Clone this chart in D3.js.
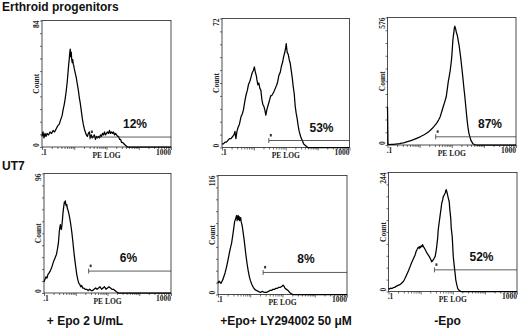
<!DOCTYPE html>
<html>
<head>
<meta charset="utf-8">
<script src="https://cdn.jsdelivr.net/npm/d3@7"></script>
<style>
  html, body { margin: 0; padding: 0; background: #fff; }
  svg { display: block; }
  .title { font: bold 12px "Liberation Sans", Arial, sans-serif; fill: #111; }
  .pct { font: bold 12px "Liberation Sans", Arial, sans-serif; fill: #111; }
  .lbl { font-family: "Liberation Serif", "Times New Roman", serif; font-weight: bold; font-size: 7.5px; fill: #222; }
</style>
</head>
<body>
<svg id="chart" width="520" height="328"></svg>
<script>
// row / column captions
const rowTitles = ['Erthroid progenitors', 'UT7'];
const conditions = ['+ Epo 2 U/mL', '+Epo+ LY294002 50 μM', '-Epo'];

// per panel: y-axis max, gated percentage, gate start (channel) and gate height (count)
const yMax = [84, 72, 576, 96, 116, 244];
const percents = ['12%', '53%', '87%', '6%', '8%', '52%'];
const gateStart = [95, 94, 96, 90, 89.5, 91.5];
const gateLevel = [6.6, 3.9, 37, 17.6, 21.5, 44.4];
const xTickLabels = ['.1', '1000'];

// histograms: [channel (0-256 over 4 log decades), count]
const progEpo = [[0,7],[2,10],[4,6],[6,9],[8,7],[10,9],[13,8],[16,10],[19,9],[22,11],[25,10],[28,12],[31,14],[34,15],[37,18],[40,21],[42,25],[44,28],[46,32],[48,37],[50,43],[51,47],[52,51],[53,55],[54,58],[55,62],[56,65],[57,60],[58,63],[59,58],[60,56],[61,58],[62,55],[63,54],[64,52],[66,49],[68,46],[70,42],[72,38],[74,33],[76,29],[78,24],[80,19],[82,15],[84,12],[86,10],[88,8],[90,7],[92,9],[94,10],[96,6],[98,8],[100,6],[102,7],[104,8],[106,5],[108,7],[110,6],[112,7],[114,6],[116,8],[118,7],[120,9],[122,8],[124,10],[126,8],[128,9],[130,10],[132,9],[134,11],[136,9],[138,10],[140,9],[142,10],[144,8],[146,9],[148,8],[150,7],[152,7],[154,5],[156,5],[158,3],[160,3],[163,2],[166,1],[170,0],[256,0]];
const progLy = [[0,2],[3,2],[6,3],[9,3],[12,4],[15,5],[18,5],[21,6],[24,7],[26,9],[28,5],[30,9],[32,11],[35,13],[38,17],[41,19],[43,21],[46,26],[48,29],[51,32],[53,35],[56,37],[58,39],[61,42],[63,43],[65,45],[67,42],[69,40],[70,38],[72,35],[74,36],[76,33],[78,32],[80,27],[82,24],[84,23],[86,21],[88,18],[90,21],[92,23],[94,25],[96,27],[98,29],[100,29],[102,30],[104,31],[107,33],[110,35],[112,37],[114,40],[117,42],[119,45],[122,48],[124,51],[126,53],[128,56],[129,58],[130,55],[131,53],[133,52],[135,49],[137,47],[139,43],[141,39],[143,34],[145,30],[147,23],[149,19],[151,16],[153,12],[155,9],[158,6],[161,4],[164,2],[168,1],[172,0],[256,0]];
const progNoEpo = [[0,173],[1,4],[4,2],[8,3],[12,3],[16,4],[20,5],[24,6],[28,8],[32,10],[38,14],[45,19],[52,24],[58,30],[65,37],[72,45],[77,52],[82,60],[87,70],[92,82],[96,93],[99,102],[102,114],[105,128],[108,150],[111,173],[114,195],[117,218],[119,250],[121,285],[123,310],[125,338],[127,375],[128,398],[129,430],[130,466],[131,490],[132,505],[133,526],[134,537],[135,530],[136,522],[137,510],[139,496],[141,470],[143,445],[146,391],[148,350],[150,308],[152,262],[154,220],[156,173],[158,125],[160,85],[162,55],[164,38],[166,22],[168,14],[170,6],[173,2],[178,0],[256,0]];
const ut7Epo = [[0,9],[2,11],[4,13],[6,12],[8,15],[10,16],[13,18],[16,21],[19,25],[22,28],[25,31],[27,35],[29,40],[31,50],[32,53],[33,55],[34,52],[35,51],[36,54],[37,58],[38,63],[39,67],[40,70],[41,73],[42,72],[43,74],[44,71],[45,70],[46,71],[47,68],[48,67],[50,64],[52,60],[54,55],[56,49],[58,42],[60,34],[62,27],[64,21],[66,15],[68,11],[70,8],[72,7],[74,5],[76,6],[78,4],[80,4],[83,3],[86,3],[89,2],[92,3],[95,2],[98,2],[101,3],[104,4],[107,3],[110,4],[113,5],[116,3],[119,4],[122,5],[125,3],[128,4],[131,5],[134,4],[137,3],[140,3],[143,2],[146,1],[150,0],[256,0]];
const ut7Ly = [[0,11],[2,13],[4,12],[6,11],[8,13],[10,15],[12,18],[14,21],[17,27],[20,34],[22,39],[24,44],[27,50],[30,60],[33,71],[35,74],[37,77],[38,72],[39,75],[40,77],[41,73],[42,76],[43,72],[44,74],[45,75],[46,71],[48,67],[50,60],[52,53],[55,40],[58,29],[60,23],[62,18],[64,14],[67,10],[70,7],[73,5],[76,4],[80,3],[84,2],[88,3],[92,2],[96,2],[100,3],[103,4],[106,4],[109,5],[112,5],[115,6],[118,6],[121,7],[124,7],[127,8],[129,9],[131,8],[133,6],[136,5],[139,4],[142,2],[145,1],[149,0],[256,0]];
const ut7NoEpo = [[0,6],[2,5],[4,7],[7,6],[10,8],[13,9],[16,11],[20,13],[23,14],[27,18],[30,21],[33,27],[36,34],[40,43],[43,51],[46,59],[50,68],[53,75],[55,82],[57,86],[58,89],[60,91],[61,88],[62,92],[64,90],[65,94],[67,92],[68,96],[70,91],[71,90],[73,86],[75,82],[77,78],[79,75],[81,72],[83,68],[85,64],[86,61],[88,63],[89,65],[91,68],[93,72],[95,84],[96,92],[98,110],[99,126],[101,142],[103,157],[105,172],[106,181],[108,188],[109,194],[111,198],[113,202],[114,206],[115,209],[116,205],[117,201],[119,192],[121,184],[122,170],[124,150],[125,130],[127,112],[128,92],[129,72],[131,52],[133,34],[134,24],[136,14],[138,6],[140,3],[144,0],[256,0]];

const series = [progEpo, progLy, progNoEpo, ut7Epo, ut7Ly, ut7NoEpo];

// panel frames in page pixels, plus where the percentage sits
const boxes = [
  { x0: 42,    x1: 171,   y0: 20.5,  y1: 147,   px: 135 },
  { x0: 222,   x1: 349.5, y0: 18.5,  y1: 147.5, px: 321.5 },
  { x0: 387.5, x1: 516,   y0: 17.5,  y1: 145,   px: 490 },
  { x0: 44,    x1: 171,   y0: 173.5, y1: 293,   px: 128.5 },
  { x0: 218,   x1: 347,   y0: 175.5, y1: 294.5, px: 306 },
  { x0: 388.5, x1: 517,   y0: 172.5, y1: 291.5, px: 481.5 }
];

const svg = d3.select('#chart');

svg.append('text').attr('class', 'title').attr('x', 2).attr('y', 10.5).text(rowTitles[0]);
svg.append('text').attr('class', 'title').attr('x', 2).attr('y', 170).text(rowTitles[1]);

const captionX = [85, 286, 447.5];
conditions.forEach((c, i) => {
  svg.append('text').attr('class', 'title')
    .attr('x', captionX[i]).attr('y', 325)
    .attr('text-anchor', 'middle')
    .text(c);
});

series.forEach((data, i) => {
  const b = boxes[i];
  const g = svg.append('g');

  const xCh = d3.scaleLinear().domain([0, 256]).range([b.x0, b.x1]);
  const xLog = d3.scaleLog().domain([0.1, 1000]).range([b.x0, b.x1]);
  const y = d3.scaleLinear().domain([0, yMax[i]]).range([b.y1, b.y0]);

  // x axis: log ticks, decades a bit longer
  const xAxis = g.append('g')
    .attr('transform', `translate(0,${b.y1})`)
    .call(d3.axisBottom(xLog).tickValues(xLog.ticks()).tickSize(2).tickFormat(''));
  xAxis.select('.domain').remove();
  xAxis.selectAll('.tick line')
    .attr('stroke', '#333').attr('stroke-width', 0.7)
    .attr('y2', d => Math.abs(Math.log10(d) % 1) < 1e-6 ? 3 : 2);

  // y axis: small outward ticks
  const yAxis = g.append('g')
    .attr('transform', `translate(${b.x0},0)`)
    .call(d3.axisLeft(y).tickValues(d3.range(0, 11).map(k => yMax[i] * k / 10)).tickSize(2).tickFormat(''));
  yAxis.select('.domain').remove();
  yAxis.selectAll('.tick line').attr('stroke', '#333').attr('stroke-width', 0.7);

  // frame
  g.append('rect')
    .attr('x', b.x0).attr('y', b.y0)
    .attr('width', b.x1 - b.x0).attr('height', b.y1 - b.y0)
    .attr('fill', 'none').attr('stroke', '#222').attr('stroke-width', 0.8);

  // histogram trace
  const line = d3.line().x(d => xCh(d[0])).y(d => y(d[1]));
  g.append('path').datum(data)
    .attr('d', line)
    .attr('fill', 'none').attr('stroke', '#000')
    .attr('stroke-width', 1.25).attr('stroke-linejoin', 'round');

  // gate marker
  const gx = xCh(gateStart[i]);
  const gy = y(gateLevel[i]);
  g.append('line').attr('x1', gx).attr('x2', b.x1).attr('y1', gy).attr('y2', gy)
    .attr('stroke', '#333').attr('stroke-width', 0.8);
  g.append('line').attr('x1', gx).attr('x2', gx).attr('y1', gy - 2.5).attr('y2', gy + 2.5)
    .attr('stroke', '#333').attr('stroke-width', 0.8);
  g.append('rect').attr('x', gx + 1).attr('y', gy - 6.5).attr('width', 2).attr('height', 2.5).attr('fill', '#333');

  g.append('text').attr('class', 'pct')
    .attr('x', b.px).attr('y', gy - 9)
    .attr('text-anchor', 'middle')
    .text(percents[i]);

  // axis labels
  g.append('text').attr('class', 'lbl').attr('x', b.x0 + 2).attr('y', b.y1 + 7.5)
    .attr('text-anchor', 'middle').text(xTickLabels[0]);
  g.append('text').attr('class', 'lbl').attr('x', b.x1).attr('y', b.y1 + 7.5)
    .attr('text-anchor', 'end').text(xTickLabels[1]);
  g.append('text').attr('class', 'lbl').attr('x', (b.x0 + b.x1) / 2).attr('y', b.y1 + 10.5)
    .attr('text-anchor', 'middle').text('PE LOG');

  const yl = (yy, anchor, txt) => g.append('text').attr('class', 'lbl')
    .attr('transform', `translate(${b.x0 - 3},${yy}) rotate(-90)`)
    .attr('text-anchor', anchor).text(txt);
  yl(b.y0, 'end', yMax[i]);
  yl(b.y1, 'start', '0');
  yl((b.y0 + b.y1) / 2, 'middle', 'Count');
});
</script>
</body>
</html>
